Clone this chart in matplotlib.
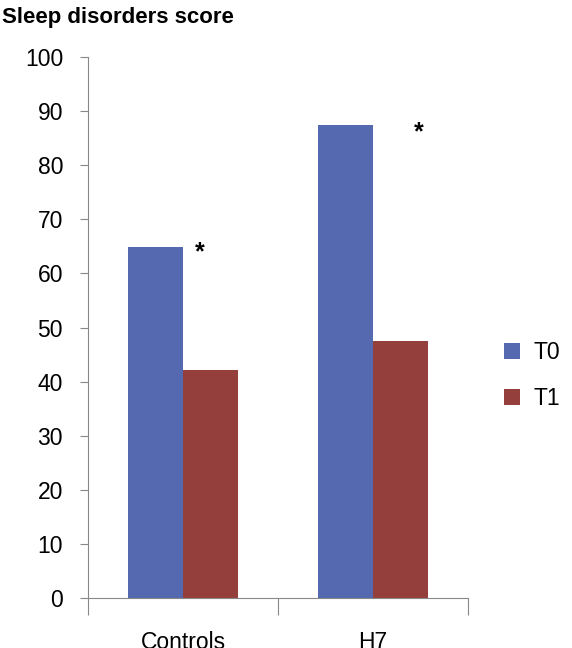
import numpy as np
import matplotlib.pyplot as plt

plt.rcParams['font.family'] = ['Liberation Sans', 'DejaVu Sans']

groups = ['Controls', 'H7']
t0 = [64.8, 87.5]
t1 = [42.2, 47.5]
series_names = ['T0', 'T1']
yticks = list(range(0, 101, 10))

blue = '#5469B0'
red = '#953F3D'

fig = plt.figure(figsize=(5.72, 6.48), dpi=100)
ax = fig.add_axes([0.154, 0.077, 0.664, 0.835])

x = np.arange(len(groups))
w = 0.29
ax.bar(x - w / 2, t0, w, color=blue, label=series_names[0])
ax.bar(x + w / 2, t1, w, color=red, label=series_names[1])

# significance marks
ax.text(0.09, 64.0, '*', fontsize=18, fontweight='bold', ha='center', va='center')
ax.text(1.24, 86.0, '*', fontsize=18, fontweight='bold', ha='center', va='center')

ax.set_xlim(-0.5, 1.5)
ax.set_ylim(0, 100)
ax.set_yticks(yticks)
ax.tick_params(axis='y', labelsize=16.5, length=6, color='#888888', pad=12)
ax.set_xticks([-0.5, 0.5, 1.5], minor=False)
ax.set_xticklabels([])
ax.set_xticks(x, minor=True)
ax.set_xticklabels(groups, minor=True, fontsize=16.5)
ax.tick_params(axis='x', which='major', length=12, color='#888888')
ax.tick_params(axis='x', which='minor', length=0, pad=24)
for s in ['top', 'right']:
    ax.spines[s].set_visible(False)
for s in ['left', 'bottom']:
    ax.spines[s].set_color('#888888')

fig.text(0.003, 0.973, 'Sleep disorders score', fontsize=16, fontweight='bold', va='center')
fig.legend(loc='center left', bbox_to_anchor=(0.845, 0.42), frameon=False,
           fontsize=16.5, handlelength=0.7, handleheight=0.7, labelspacing=1.0,
           handletextpad=0.6)

fig.savefig('out.png', dpi=100)
